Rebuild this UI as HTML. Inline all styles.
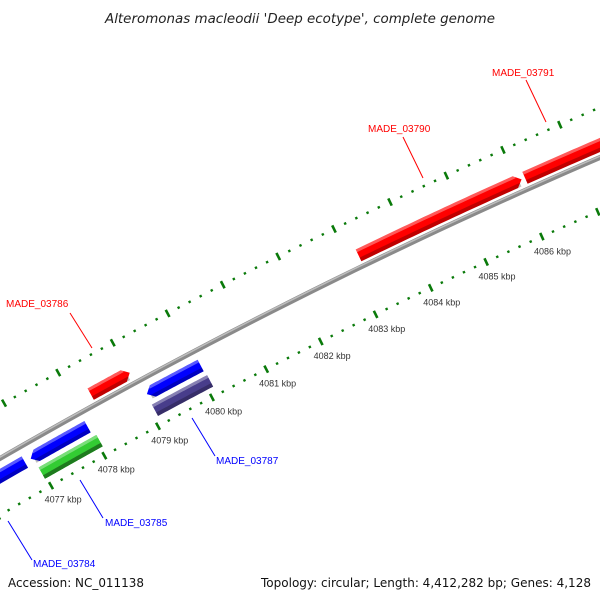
<!DOCTYPE html>
<html><head><meta charset="utf-8">
<style>
html,body{margin:0;padding:0;background:#fff;}
svg{display:block;font-family:"Liberation Sans",sans-serif;}
</style></head>
<body>
<svg id="map" width="600" height="600" viewBox="0 0 600 600" xmlns="http://www.w3.org/2000/svg">
<rect width="600" height="600" fill="#fff"/>
<text x="105" y="23" textLength="390" lengthAdjust="spacingAndGlyphs" font-family="DejaVu Sans, sans-serif" font-size="13" font-style="italic" fill="#222">Alteromonas macleodii 'Deep ecotype', complete genome</text>
<g id="layer"></g>
<text x="8" y="587" textLength="136" lengthAdjust="spacingAndGlyphs" font-family="DejaVu Sans, sans-serif" font-size="12" fill="#111">Accession: NC_011138</text>
<text x="261" y="587" textLength="330" lengthAdjust="spacingAndGlyphs" font-family="DejaVu Sans, sans-serif" font-size="12" fill="#111">Topology: circular; Length: 4,412,282 bp; Genes: 4,128</text>
</svg>
<script>
// data
const geneNames = ["MADE_03784","MADE_03785","MADE_03785b","MADE_03785c","MADE_03786","MADE_03787","MADE_03787b","MADE_03790","MADE_03791"];
const geneStarts = [4075.0, 4076.93, 4076.97, 4077.0, 4078.29, 4079.09, 4079.08, 4083.17, 4086.14];
const geneEnds   = [4076.82, 4077.99, 4078.05, 4078.05, 4079.01, 4080.08, 4080.1, 4086.08, 4088.5];
const geneStrand = [-1, -1, 0, 0, 1, -1, 0, 1, 1];
const geneTrack  = [1, 1, 2, 2, 1, 1, 2, 1, 1];
const geneColor  = ["#0000ff","#0000ff","#33cc33","#33cc33","#ff0000","#0000ff","#483d8b","#ff0000","#ff0000"];
const tickLabels = [4077,4078,4079,4080,4081,4082,4083,4084,4085,4086];
const labelTexts = ["MADE_03784","MADE_03785","MADE_03786","MADE_03787","MADE_03790","MADE_03791"];
const labelColors = ["#0000ff","#0000ff","#ff0000","#0000ff","#ff0000","#ff0000"];

const NS="http://www.w3.org/2000/svg";
const layer=document.getElementById('layer');
const CX=2890, CY=5471, R0=5786, RIN=5737, ROUT=5832;
function ang(p){return (-119.66+(p-4077)*0.611)*Math.PI/180;}
function pt(p,r){const a=ang(p);return [CX+r*Math.cos(a),CY+r*Math.sin(a)];}
function mk(tag,attrs){const e=document.createElementNS(NS,tag);for(const k in attrs)e.setAttribute(k,attrs[k]);layer.appendChild(e);return e;}
function arcPath(p1,p2,r){let d="";const n=40;for(let i=0;i<=n;i++){const q=pt(p1+(p2-p1)*i/n,r);d+=(i?"L":"M")+q[0].toFixed(2)+","+q[1].toFixed(2);}return d;}
function bandPoly(p1,p2,r1,r2,strand){
  const tip=0.11;let pts=[];const n=30;
  let a1=p1,a2=p2;
  if(strand===1)a2=p2-tip; if(strand===-1)a1=p1+tip;
  for(let i=0;i<=n;i++)pts.push(pt(a1+(a2-a1)*i/n,r2));
  if(strand===1)pts.push(pt(p2,(r1+r2)/2));
  for(let i=n;i>=0;i--)pts.push(pt(a1+(a2-a1)*i/n,r1));
  if(strand===-1)pts.push(pt(p1,(r1+r2)/2));
  return pts.map(q=>q[0].toFixed(2)+","+q[1].toFixed(2)).join(" ");
}

// backbone
let bb=mk('path',{d:arcPath(4074,4089,R0),stroke:'#8a8a8a','stroke-width':5,fill:'none'});


let bbh=mk('path',{d:arcPath(4074,4089,R0+1.2),stroke:'#bdbdbd','stroke-width':1.5,fill:'none'});



// ticks
for(let i=0;i<=75;i++){
  const p=4074+i*0.2;const major=Math.abs(p-Math.round(p))<1e-6;
  [RIN,ROUT].forEach(function(r,j){
    const L=major?4:1.2;
    const a=pt(p,r-L),b=pt(p,r+L);
    const t=mk('line',{x1:a[0],y1:a[1],x2:b[0],y2:b[1],stroke:'#0a7a0a','stroke-width':major?2.6:2.4});
    
    
  });
}
tickLabels.forEach(function(v){
  const q=pt(v+0.06,RIN-18);
  const t=mk('text',{x:q[0],y:q[1]+3,'text-anchor':'middle','font-size':'9',fill:'#333'});
  t.textContent=v+" kbp";
  
  
});

// genes
geneNames.forEach(function(nm,i){
  let r1,r2;
  if(geneStrand[i]===1){r1=R0+5;r2=R0+18;}
  else if(geneTrack[i]===1){r1=R0-22;r2=R0-9;}
  else {r1=R0-40;r2=R0-27;}
  const c=geneColor[i];
  const g=mk('polygon',{points:bandPoly(geneStarts[i],geneEnds[i],r1,r2,geneStrand[i]),fill:c});
  
  
  const shade=c==="#33cc33"?"#1e7a1e":"rgba(0,0,0,0.25)";
  const s=mk('polygon',{points:bandPoly(geneStarts[i]+(geneStrand[i]===-1?0.05:0),geneEnds[i]-(geneStrand[i]===1?0.05:0),r1,r1+4,0),fill:shade});
  
  
  const h=mk('polygon',{points:bandPoly(geneStarts[i]+(geneStrand[i]===-1?0.08:0),geneEnds[i]-(geneStrand[i]===1?0.08:0),r2-3,r2,0),fill:'rgba(255,255,255,0.35)'});
  
  
});

// labels
const labelPos=[[33,567,8,521,32,560],[105,526,80,480,103,518],[6,307,70,313,92,348],[216,464,192,418,215,456],[368,132,403,137,423,178],[492,76,526,80,546,122]];
labelTexts.forEach(function(t,i){
  const p=labelPos[i];
  const l=mk('line',{x1:p[2],y1:p[3],x2:p[4],y2:p[5],stroke:labelColors[i],'stroke-width':1});
  
  
  const e=mk('text',{x:p[0],y:p[1],'font-size':'10',fill:labelColors[i]});
  e.textContent=t;
  
  
});
</script>
</body></html>
